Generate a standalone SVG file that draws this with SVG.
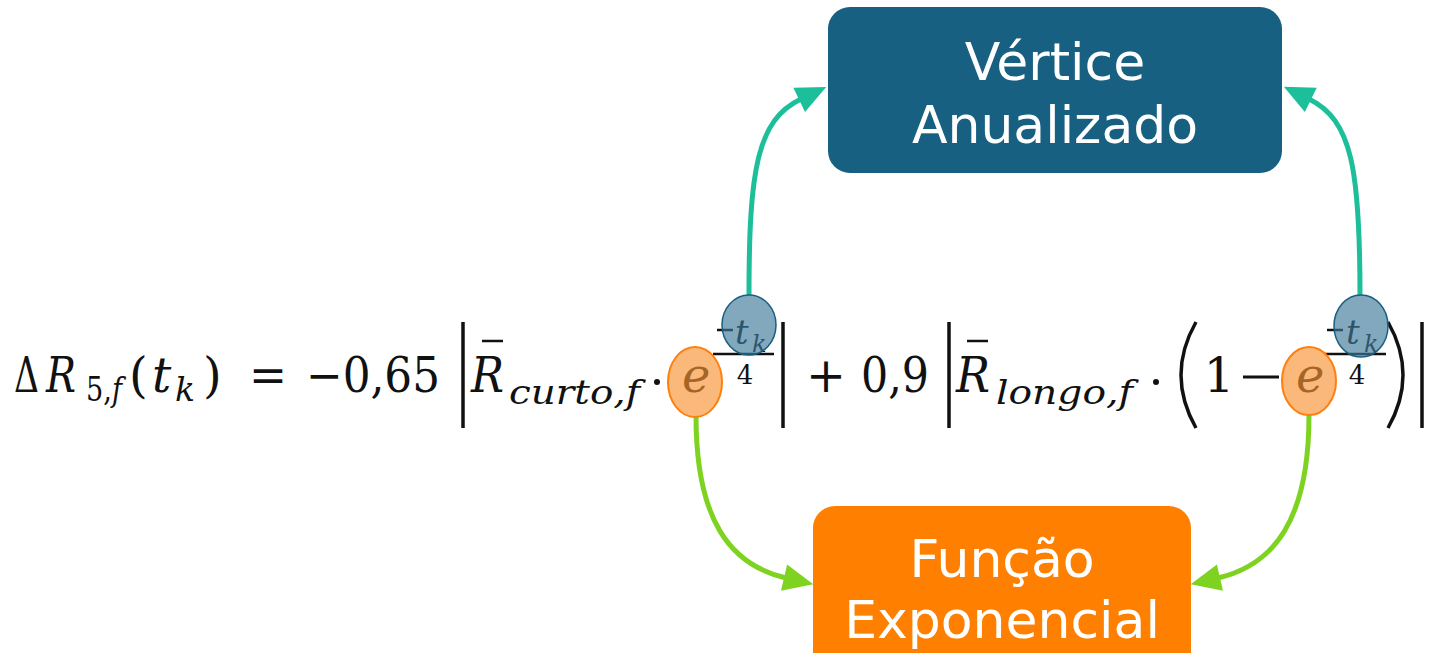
<svg xmlns="http://www.w3.org/2000/svg" width="1434" height="653" viewBox="0 0 1434 653">
<defs>
<style>
.m{font-family:"DejaVu Serif","Liberation Serif",serif;fill:#111;font-size:48px}
.i{font-style:italic}
.s{font-size:33px}
.et{font-size:34px}
.ek{font-size:24px}
.e4{font-size:26px}
.rule{stroke:#111;stroke-width:3.5;fill:none}
.thin{stroke:#111;stroke-width:2.5;fill:none}
.lbl{font-family:"DejaVu Sans",sans-serif;font-size:52px;fill:#ffffff;text-anchor:middle}
.eo{fill:#F79433;fill-opacity:0.65;stroke:#FF7F0E;stroke-width:2}
.tb{fill:#3E7A9A;fill-opacity:0.65;stroke:#1A5E80;stroke-width:1.5}
.teal{stroke:#1DBE9A;stroke-width:5;fill:none}
.grn{stroke:#7ED321;stroke-width:5;fill:none}
</style>
<marker id="aT" markerUnits="userSpaceOnUse" markerWidth="40" markerHeight="40" viewBox="0 -20 40 40" refX="0" refY="0" orient="auto" overflow="visible">
<path d="M-2,-13.5 L28,0 L-2,13.5 z" fill="#1DBE9A"/>
</marker>
<marker id="aG" markerUnits="userSpaceOnUse" markerWidth="40" markerHeight="40" viewBox="0 -20 40 40" refX="0" refY="0" orient="auto" overflow="visible">
<path d="M-2,-13.5 L28,0 L-2,13.5 z" fill="#7ED321"/>
</marker>
</defs>
<rect width="1434" height="653" fill="#ffffff"/>

<g id="formula">
<text class="m" x="14" y="392" textLength="25" lengthAdjust="spacingAndGlyphs">Δ</text>
<text class="m i" x="46" y="392" textLength="30" lengthAdjust="spacingAndGlyphs">R</text>
<text class="m s" x="86" y="401" textLength="36" lengthAdjust="spacingAndGlyphs">5,<tspan class="i">f</tspan></text>
<text class="m" x="129" y="392">(</text>
<text class="m i" x="152" y="392">t</text>
<text class="m i s" x="175" y="401">k</text>
<text class="m" x="203" y="392">)</text>
<text class="m" x="249" y="392" textLength="38" lengthAdjust="spacingAndGlyphs">=</text>
<text class="m" x="306" y="392" textLength="134" lengthAdjust="spacingAndGlyphs">−0,65</text>
<line class="rule" x1="463" y1="322" x2="463" y2="428"/>
<text class="m i" x="471" y="392" textLength="33" lengthAdjust="spacingAndGlyphs">R</text>
<line class="thin" x1="482" y1="341" x2="503" y2="341"/>
<text class="m i s" x="509" y="404" textLength="131" lengthAdjust="spacingAndGlyphs">curto,f</text>
<circle cx="657" cy="382" r="3" fill="#111"/>
<text class="m i" x="682" y="392">e</text>
<line class="thin" x1="717" y1="330" x2="733" y2="330"/>
<text class="m i et" x="735" y="344">t</text>
<text class="m i ek" x="752" y="352">k</text>
<line class="thin" x1="713" y1="354" x2="774" y2="354"/>
<text class="m e4" x="745" y="384" text-anchor="middle">4</text>
<line class="rule" x1="783" y1="322" x2="783" y2="428"/>
<text class="m" x="806" y="392" textLength="40" lengthAdjust="spacingAndGlyphs">+</text>
<text class="m" x="861" y="392" textLength="68" lengthAdjust="spacingAndGlyphs">0,9</text>
<line class="rule" x1="949" y1="322" x2="949" y2="428"/>
<text class="m i" x="956" y="392" textLength="34" lengthAdjust="spacingAndGlyphs">R</text>
<line class="thin" x1="967" y1="341" x2="988" y2="341"/>
<text class="m i s" x="996" y="404" textLength="137" lengthAdjust="spacingAndGlyphs">longo,f</text>
<circle cx="1156" cy="382" r="3" fill="#111"/>
<path class="rule" d="M1196,322 Q1166,375 1196,428"/>
<text class="m" x="1219" y="392" text-anchor="middle">1</text>
<line x1="1243" y1="377" x2="1279" y2="377" stroke="#111" stroke-width="3"/>
<text class="m i" x="1296" y="392">e</text>
<line class="thin" x1="1327" y1="330" x2="1343" y2="330"/>
<text class="m i et" x="1346" y="344">t</text>
<text class="m i ek" x="1364" y="352">k</text>
<line class="thin" x1="1325" y1="354" x2="1386" y2="354"/>
<text class="m e4" x="1357" y="384" text-anchor="middle">4</text>
<path class="rule" d="M1388,322 Q1418,375 1388,428"/>
<line class="rule" x1="1422" y1="322" x2="1422" y2="428"/>
</g>

<g id="connectors">
<path class="teal" d="M749,295 C749,170 757,120 801,99" marker-end="url(#aT)"/>
<path class="teal" d="M1360,295 C1360,170 1352,120 1309,99" marker-end="url(#aT)"/>
<path class="grn" d="M696,416 C696,520 730,565 786,578" marker-end="url(#aG)"/>
<path class="grn" d="M1309,415 C1309,520 1274,565 1218,578" marker-end="url(#aG)"/>
</g>

<g id="e-left"><ellipse class="eo" cx="695" cy="382" rx="27" ry="35"/></g>
<g id="tk-left"><ellipse class="tb" cx="749" cy="325" rx="27" ry="30"/></g>
<g id="e-right"><ellipse class="eo" cx="1309" cy="381" rx="27" ry="34"/></g>
<g id="tk-right"><ellipse class="tb" cx="1361" cy="326" rx="27" ry="31"/></g>

<g id="vertice-anualizado">
<rect x="828" y="7" width="454" height="166" rx="22" fill="#176082"/>
<text class="lbl" x="1055" y="80">Vértice</text>
<text class="lbl" x="1055" y="143">Anualizado</text>
</g>

<g id="funcao-exponencial">
<rect x="813" y="506" width="378" height="175" rx="22" fill="#FF8000"/>
<text class="lbl" x="1002" y="577">Função</text>
<text class="lbl" x="1002" y="638">Exponencial</text>
</g>
</svg>
